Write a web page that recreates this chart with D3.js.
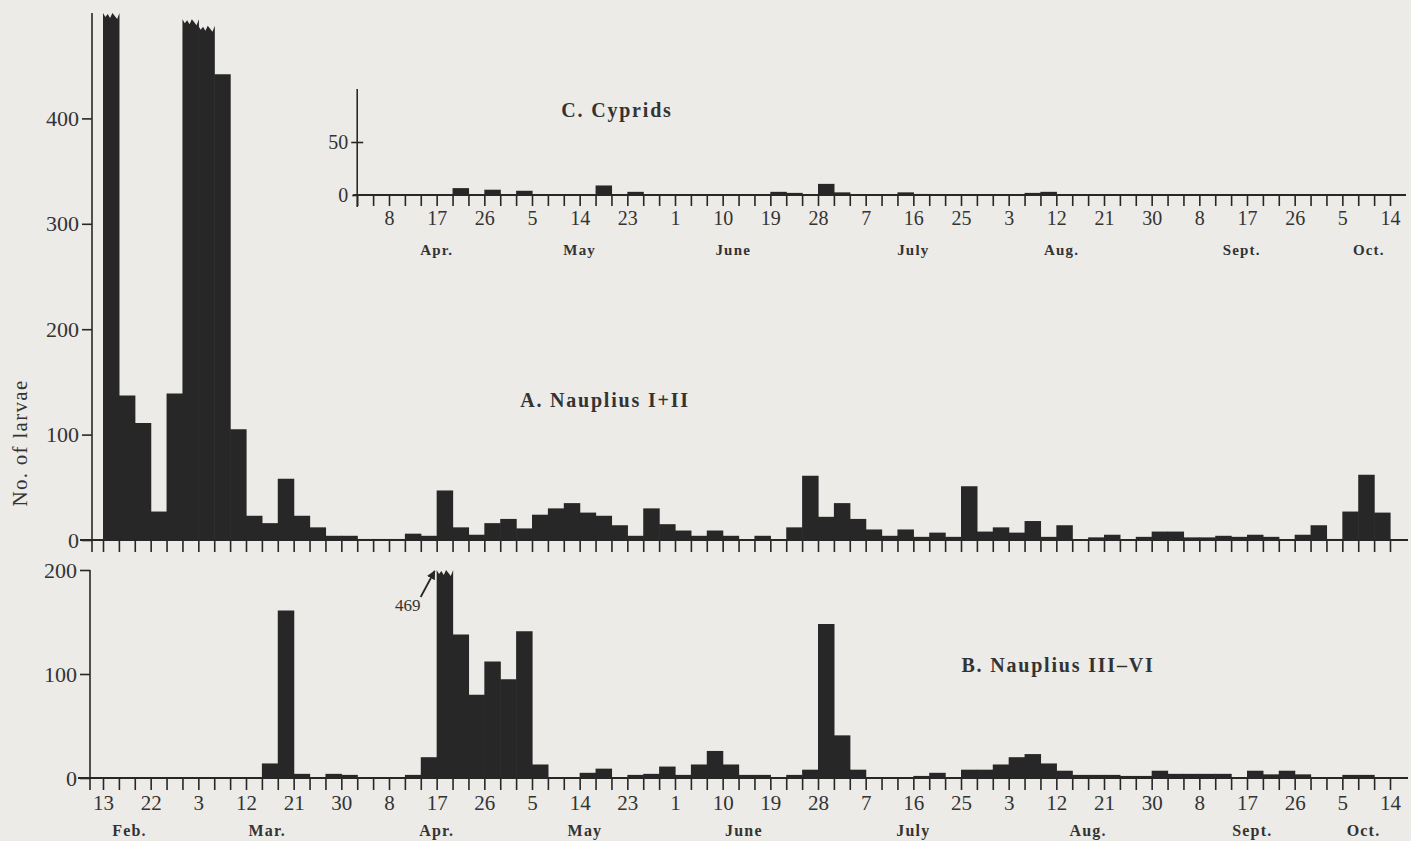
<!DOCTYPE html>
<html>
<head>
<meta charset="utf-8">
<script src="https://cdn.jsdelivr.net/npm/d3@7"></script>
<style>
	body { margin: 0; background: #ecebe7; }
	svg { display: block; }
	text { font-family: "Liberation Serif", "DejaVu Serif", serif; fill: #333; }
</style>
</head>
<body>
<svg id="chart" width="1411" height="841"></svg>
<script>
const WIDTH = 1411,
	  HEIGHT = 841;

// sampling runs in 3-day intervals, 13 Feb - 14 Oct (non-leap year)
const firstDay = new Date(1955, 1, 13),
	lastDay = new Date(1955, 9, 14),
	cypridStart = new Date(1955, 3, 2);

// A. Nauplius I+II (first three tall bars run off the top of the scale)
const naupliusA = [
	500, 137, 111, 27, 139, 494, 488, 442, 105, 23,
	16, 58, 23, 12, 4, 4, 1, 1, 1, 6,
	4, 47, 12, 5, 16, 20, 11, 24, 30, 35,
	26, 23, 14, 4, 30, 15, 9, 4, 9, 4,
	0, 4, 0, 12, 61, 22, 35, 20, 10, 4,
	10, 3, 7, 3, 51, 8, 12, 7, 18, 3,
	14, 0, 2.5, 5, 0, 3, 8, 8, 2.5, 2.5,
	4, 3, 5, 3, 0, 5, 14, 1, 27, 62,
	26
];

// B. Nauplius III-VI
const naupliusB = [
	0, 0, 0, 0, 0, 0, 0, 0, 0, 0,
	14, 161, 4, 0, 4, 3, 0, 0, 0, 3,
	20, 469, 138, 80, 112, 95, 141, 13, 0, 0,
	5, 9, 0, 3, 4, 11, 3, 13, 26, 13,
	3, 3, 0, 3, 8, 148, 41, 8, 0, 0,
	0, 2, 5, 0, 8, 8, 13, 20, 23, 14,
	7, 3, 3, 3, 2, 2, 7, 4, 4, 4,
	4, 0, 7, 3.5, 7, 3.5, 0, 0, 3, 3,
	0
];

// C. Cyprids, from 2 Apr only
const cyprids = [
	0, 0, 0, 0, 0, 0, 6.5, 0, 5, 0,
	4, 0, 0, 0, 0, 9, 0, 3, 0, 0,
	0, 0, 0, 0, 0, 0, 3, 2, 0, 10.5,
	2.5, 0, 0, 0, 2.5, 1, 0, 0, 0, 0,
	0, 0, 2, 3, 0, 0, 0, 0, 0, 0,
	0, 0, 0, 0, 0, 0, 0, 0, 0, 0,
	0, 0, 0, 0, 0
];

const ticksA = [0, 100, 200, 300, 400],
	ticksB = [0, 100, 200],
	ticksC = [0, 50];

const monthNames = ["Feb.", "Mar.", "Apr.", "May", "June", "July", "Aug.", "Sept.", "Oct."],
	monthDates = [[1, 18], [2, 16], [3, 17], [4, 15], [5, 14], [6, 16], [7, 18], [8, 18], [9, 9.5]],
	insetMonthNames = ["Apr.", "May", "June", "July", "Aug.", "Sept.", "Oct."],
	insetMonthDates = [[3, 17], [4, 14], [5, 12.5], [6, 16], [7, 13], [8, 16], [9, 10]];

const INK = "#272727";

let svg = d3.select("#chart");

svg.append("rect")
	.attr("width", WIDTH)
	.attr("height", HEIGHT)
	.attr("fill", "#ecebe7");

let xScale = d3.scaleTime()
	.domain([firstDay, lastDay])
	.range([103, 1390]);

let intervals = d3.timeDay.range(firstDay, lastDay, 3),
	tickDates = d3.timeDay.range(firstDay, d3.timeDay.offset(lastDay, 1), 3);

let yA = d3.scaleLinear().domain([0, 500]).range([540, 13]),
	yB = d3.scaleLinear().domain([0, 200]).range([778, 570]),
	yC = d3.scaleLinear().domain([0, 100]).range([195, 89]);

// zigzag used for the torn tops of off-scale bars
const tear = [0, 4, 1, 5, 0, 3, 6, 2, 5, 1, 4, 0];

function barPath(x0, x1, yBase, yTop, torn) {
	let p = d3.path();
	p.moveTo(x0, yBase);
	p.lineTo(x0, yTop);
	if (torn) {
		let n = Math.max(4, Math.round((x1 - x0) / 2.5));
		for (let k = 1; k < n; k ++) {
			p.lineTo(x0 + (x1 - x0) * k / n, yTop + tear[k % tear.length]);
		}
	}
	p.lineTo(x1, yTop);
	p.lineTo(x1, yBase);
	p.closePath();
	return p.toString();
}

// draw the blocks of one series
function drawBars(values, dates, y) {
	let max = y.domain()[1];
	let bars = values.map((v, i) => ({v: v, d: dates[i]})).filter(b => b.v > 0);

	svg.append("g").selectAll("path")
		.data(bars)
		.join("path")
			.attr("fill", INK)
			.attr("d", b => {
				let x0 = xScale(b.d),
					x1 = xScale(d3.timeDay.offset(b.d, 3)) + 0.6,
					torn = b.v >= max * 0.96;
				return barPath(x0, x1, y(0), y(Math.min(b.v, max)), torn);
			});
}

// baseline, ticks every 3 days and date labels every 9
function drawXAxis(ticks, y, x0, x1, tickLen, fontSize, labelled) {
	let axis = d3.axisBottom(xScale)
		.tickValues(ticks)
		.tickSize(tickLen)
		.tickSizeOuter(0)
		.tickPadding(5)
		.tickFormat(d => (labelled && d3.timeDay.count(firstDay, d) % 9 == 0) ? d.getDate() : "");

	let g = svg.append("g")
		.attr("transform", "translate(0," + y + ")")
		.call(axis);

	g.select(".domain").remove();
	g.selectAll(".tick line").attr("stroke", INK).attr("stroke-width", 1.6);
	g.selectAll(".tick text")
		.attr("fill", "#383838")
		.style("font-family", "'Liberation Serif', serif")
		.style("font-size", fontSize + "px");

	svg.append("line")
		.attr("x1", x0).attr("x2", x1)
		.attr("y1", y).attr("y2", y)
		.attr("stroke", INK)
		.attr("stroke-width", 1.8);
}

function drawYAxis(y, ticks, x, tickLen, fontSize, extendBelow) {
	let axis = d3.axisLeft(y)
		.tickValues(ticks)
		.tickSize(tickLen)
		.tickSizeOuter(0)
		.tickPadding(3);

	let g = svg.append("g")
		.attr("transform", "translate(" + x + ",0)")
		.call(axis);

	g.select(".domain").remove();
	g.selectAll(".tick line").attr("stroke", INK).attr("stroke-width", 1.6);
	g.selectAll(".tick text")
		.attr("fill", "#383838")
		.style("font-family", "'Liberation Serif', serif")
		.style("font-size", fontSize + "px");

	svg.append("line")
		.attr("x1", x).attr("x2", x)
		.attr("y1", y.range()[1])
		.attr("y2", y.range()[0] + extendBelow)
		.attr("stroke", INK)
		.attr("stroke-width", 1.6);

	return g;
}

function monthLabels(names, days, y, fontSize) {
	svg.append("g").selectAll("text")
		.data(names)
		.join("text")
			.attr("x", (m, i) => xScale(new Date(1955, days[i][0], days[i][1])))
			.attr("y", y)
			.attr("text-anchor", "middle")
			.style("font-size", fontSize + "px")
			.style("font-weight", "bold")
			.style("letter-spacing", "1.2px")
			.text(m => m);
}

function title(x, y, label) {
	svg.append("text")
		.attr("x", x)
		.attr("y", y)
		.attr("text-anchor", "middle")
		.style("font-size", "20px")
		.style("font-weight", "bold")
		.style("letter-spacing", "1.8px")
		.text(label);
}

// ---- panel A
drawBars(naupliusA, intervals, yA);
drawYAxis(yA, ticksA, 92, 10, 22, 12);
drawXAxis(tickDates, 540, 80, 1408, 12, 21, false);

svg.append("text")
	.attr("transform", "translate(27,443) rotate(-90)")
	.attr("text-anchor", "middle")
	.style("font-size", "21px")
	.style("letter-spacing", "1.3px")
	.text("No. of larvae");

title(605, 407, "A. Nauplius I+II");

// ---- panel B
drawBars(naupliusB, intervals, yB);
drawYAxis(yB, ticksB, 90, 10, 22, 12);
drawXAxis(tickDates, 778, 78, 1408, 12, 21, true);
monthLabels(monthNames, monthDates, 836, 16);

title(1058, 672, "B. Nauplius  III\u2013VI");

// off-scale value of the 17 Apr bar
let offBar = intervals[naupliusB.indexOf(469)],
	tipX = xScale(offBar) - 2,
	tipY = yB(200) + 1;

svg.append("defs").append("marker")
	.attr("id", "head")
	.attr("viewBox", "0 0 10 10")
	.attr("refX", 9).attr("refY", 5)
	.attr("markerWidth", 5).attr("markerHeight", 5)
	.attr("orient", "auto")
	.append("path")
		.attr("d", "M0,0L10,5L0,10z")
		.attr("fill", INK);

svg.append("line")
	.attr("x1", tipX - 14).attr("y1", tipY + 26)
	.attr("x2", tipX).attr("y2", tipY)
	.attr("stroke", INK)
	.attr("stroke-width", 1.8)
	.attr("marker-end", "url(#head)");

svg.append("text")
	.attr("x", tipX - 27)
	.attr("y", tipY + 40)
	.attr("text-anchor", "middle")
	.style("font-size", "17px")
	.text(naupliusB[naupliusB.indexOf(469)]);

// ---- panel C (inset)
let insetIntervals = intervals.filter(d => d >= cypridStart),
	insetTicks = tickDates.filter(d => d >= cypridStart);

drawBars(cyprids, insetIntervals, yC);
let gC = drawYAxis(yC, ticksC, xScale(cypridStart), 6, 20, 12);
// the 50 tick crosses the axis
gC.selectAll(".tick line").attr("x2", d => d == 0 ? -5 : 6).attr("x1", d => d == 0 ? 0 : -6);
drawXAxis(insetTicks, 195, xScale(cypridStart) - 4, 1406, 11, 20, true);
monthLabels(insetMonthNames, insetMonthDates, 255, 15);

title(617, 117, "C. Cyprids");
</script>
</body>
</html>
